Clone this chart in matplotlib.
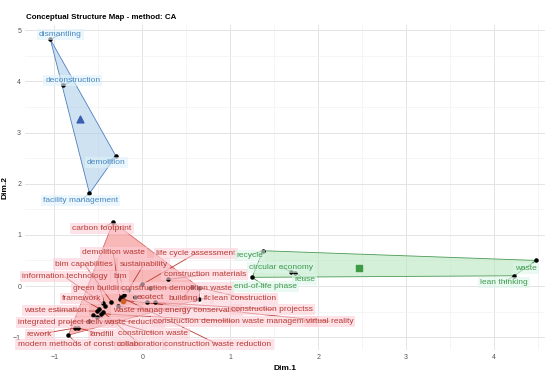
import numpy as np
import matplotlib
matplotlib.use("Agg")
from matplotlib import pyplot as plt

plt.rcParams['font.family'] = ['Liberation Sans', 'DejaVu Sans']

# cluster 1 (blue)
blue_terms = ["dismantling", "deconstruction", "demolition", "facility management"]
blue_d1 = [-1.045, -0.90, -0.30, -0.60]
blue_d2 = [4.82, 3.92, 2.54, 1.81]

# cluster 2 (red)
red_terms = ["carbon footprint", "demolition waste", "life cycle assessment", "bim capabilities",
             "sustainability", "information technology", "bim", "construction materials",
             "green building", "construction demolition waste", "framework", "ecotect",
             "building", "ifc", "lean construction", "waste estimation", "waste management",
             "energy conservation", "construction projectss", "integrated project delivery",
             "waste reduction", "construction demolition waste management", "virtual reality",
             "rework", "landfill", "construction waste", "modern methods of construction",
             "collaboration", "construction waste reduction"]
red_d1 = [-0.33, -0.25, 0.00, -0.35, -0.16, -0.45, -0.21, 0.29, -0.42, 0.09, -0.49, -0.08,
          0.56, 0.65, 0.65, -0.52, -0.28, 0.05, 0.14, -0.61, -0.52, -0.47, -0.22,
          -0.76, -0.73, -0.56, -0.84, -0.45, -0.24]
red_d2 = [1.25, -0.26, 0.03, -0.31, -0.08, -0.34, -0.18, 0.13, -0.39, -0.03, -0.44, -0.21,
          -0.02, -0.26, -0.03, -0.49, -0.39, -0.32, -0.32, -0.69, -0.60, -0.54, -0.28,
          -0.82, -0.82, -0.57, -0.96, -0.50, -0.22]

# cluster 3 (green)
green_terms = ["recycle", "circular economy", "reuse", "end-of-life phase", "waste", "lean thinking"]
green_d1 = [1.37, 1.69, 1.74, 1.25, 4.48, 4.23]
green_d2 = [0.69, 0.28, 0.26, 0.17, 0.50, 0.20]

# repelled label placement (layout only)
label_pos = {
    "dismantling": (-0.93, 4.92), "deconstruction": (-0.79, 4.02),
    "demolition": (-0.41, 2.41), "facility management": (-0.70, 1.67),
    "carbon footprint": (-0.46, 1.12), "demolition waste": (-0.33, 0.65),
    "life cycle assessment": (0.61, 0.64), "bim capabilities": (-0.66, 0.43),
    "sustainability": (0.02, 0.43), "information technology": (-0.88, 0.18),
    "bim": (-0.25, 0.18), "construction materials": (0.71, 0.22),
    "green building": (-0.48, -0.04), "construction demolition waste": (0.39, -0.04),
    "framework": (-0.69, -0.25), "ecotect": (0.09, -0.23), "building": (0.46, -0.24),
    "ifc": (0.74, -0.24), "lean construction": (1.16, -0.24),
    "waste estimation": (-0.99, -0.48), "waste management": (0.08, -0.48),
    "energy conservation": (0.69, -0.47), "construction projectss": (1.48, -0.46),
    "integrated project delivery": (-0.86, -0.71), "waste reduction": (-0.10, -0.71),
    "construction demolition waste management": (1.05, -0.69),
    "virtual reality": (2.13, -0.69), "rework": (-1.17, -0.94), "landfill": (-0.46, -0.94),
    "construction waste": (0.12, -0.92), "modern methods of construction": (-0.73, -1.15),
    "collaboration": (-0.02, -1.15), "construction waste reduction": (0.86, -1.14),
    "recycle": (1.22, 0.60), "circular economy": (1.58, 0.37), "reuse": (1.85, 0.13),
    "end-of-life phase": (1.40, -0.01), "waste": (4.36, 0.35), "lean thinking": (4.11, 0.07),
}


def hull(xs, ys):
    pts = sorted(zip(xs, ys))

    def cross(o, a, b):
        return (a[0] - o[0]) * (b[1] - o[1]) - (a[1] - o[1]) * (b[0] - o[0])

    lower, upper = [], []
    for p in pts:
        while len(lower) >= 2 and cross(lower[-2], lower[-1], p) <= 0:
            lower.pop()
        lower.append(p)
    for p in reversed(pts):
        while len(upper) >= 2 and cross(upper[-2], upper[-1], p) <= 0:
            upper.pop()
        upper.append(p)
    return np.array(lower[:-1] + upper[:-1])


clusters = [
    (blue_terms, blue_d1, blue_d2, "#a9cbe8", 0.55, "#4f7fbf", "#4a87c2", "#dff3fa", "^", 24, "#3b5fb0"),
    (red_terms, red_d1, red_d2, "#f79a9a", 0.7, "#d46a6a", "#b83a34", "#fcd0d8", "o", 10, "#d0602a"),
    (green_terms, green_d1, green_d2, "#b8e6c0", 0.6, "#4c9a55", "#3f9a4c", "#ddf6ea", "s", 22, "#3e9a45"),
]

fig = plt.figure(figsize=(5.5, 3.8), dpi=100)
ax = fig.add_axes([0.046, 0.079, 0.945, 0.855])
ax.set_xlim(-1.33, 4.58)
ax.set_ylim(-1.25, 5.10)

ax.set_xticks(np.arange(-1, 5, 1))
ax.set_yticks(np.arange(-1, 6, 1))
ax.set_xticks(np.arange(-1, 4.6, 0.5), minor=True)
ax.set_yticks(np.arange(-1, 5.1, 0.5), minor=True)
ax.grid(which="major", color="#e4e4e4", linewidth=0.7)
ax.grid(which="minor", color="#f1f1f1", linewidth=0.5)
ax.set_axisbelow(True)
for s in ax.spines.values():
    s.set_visible(False)
ax.tick_params(which="both", length=0, labelsize=5, labelcolor="#555555", pad=3)

for terms, d1, d2, fill, alpha, edge, tcol, bg, mk, ms, mcol in clusters:
    h = hull(d1, d2)
    ax.fill(h[:, 0], h[:, 1], facecolor=fill, edgecolor="none", alpha=alpha, zorder=1)
    ax.plot(np.append(h[:, 0], h[0, 0]), np.append(h[:, 1], h[0, 1]), color=edge, lw=0.6, zorder=1.5)
    for t, x, y in zip(terms, d1, d2):
        lx, ly = label_pos[t]
        ax.plot([x, lx], [y, ly], color=tcol, lw=0.6, zorder=2)
        ax.text(lx, ly, t, fontsize=6.0, color=tcol, ha="center", va="center", zorder=4,
                bbox=dict(boxstyle="square,pad=0.25", facecolor=bg, edgecolor="none", alpha=0.6))
    ax.scatter(d1, d2, s=5, color="black", zorder=3)
    ax.scatter([np.mean(d1)], [np.mean(d2)], marker=mk, s=ms, color=mcol, zorder=3)

ax.set_xlabel("Dim.1", fontsize=6, fontweight="bold", labelpad=3)
ax.set_ylabel("Dim.2", fontsize=6, fontweight="bold", labelpad=3)
fig.text(0.047, 0.955, "Conceptual Structure Map - method: CA", fontsize=5.7,
         fontweight="bold", ha="left", va="center")

fig.savefig("out.png", dpi=100)
